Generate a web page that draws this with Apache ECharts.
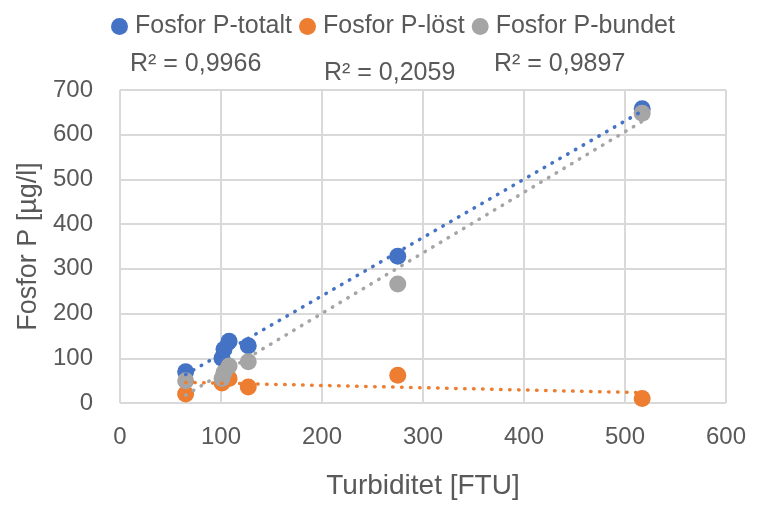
<!DOCTYPE html>
<html>
<head>
<meta charset="utf-8">
<script src="https://cdn.jsdelivr.net/npm/echarts@6/dist/echarts.min.js"></script>
<style>
  html, body { margin: 0; padding: 0; background: #fff; }
  #chart { width: 760px; height: 505px; }
</style>
</head>
<body>
<div id="chart"></div>
<script>
// Turbidity (FTU) against phosphorus fractions (µg/l)
const turbidity = [65, 101, 103, 108, 127, 275, 517];
const totalP    = [70, 100, 120, 138, 128, 328, 658];
const dissolvedP = [20, 45, 52, 55, 36, 62, 10];
const boundP    = [50, 55, 68, 83, 92, 266, 648];

const seriesNames = ['Fosfor P-totalt', 'Fosfor P-löst', 'Fosfor P-bundet'];
const seriesColors = ['#4472C4', '#ED7D31', '#A5A5A5'];
const r2Labels = ['R² = 0,9966', 'R² = 0,2059', 'R² = 0,9897'];

const xTicks = [0, 100, 200, 300, 400, 500, 600];
const yTicks = [0, 100, 200, 300, 400, 500, 600, 700];

const FONT = '"Liberation Sans", Arial, sans-serif';
const TEXT = '#595959';

// least-squares line across the observed turbidity range
function linearFit(xs, ys) {
  const n = xs.length;
  const mx = xs.reduce((a, b) => a + b, 0) / n;
  const my = ys.reduce((a, b) => a + b, 0) / n;
  let sxy = 0, sxx = 0;
  for (let i = 0; i < n; i++) {
    sxy += (xs[i] - mx) * (ys[i] - my);
    sxx += (xs[i] - mx) * (xs[i] - mx);
  }
  const slope = sxy / sxx;
  const icpt = my - slope * mx;
  const x0 = Math.min(...xs), x1 = Math.max(...xs);
  return [[x0, icpt + slope * x0], [x1, icpt + slope * x1]];
}

const values = [totalP, dissolvedP, boundP];
const series = [];
values.forEach((ys, i) => {
  series.push({
    name: seriesNames[i],
    type: 'scatter',
    symbol: 'circle',
    symbolSize: 17,
    itemStyle: { color: seriesColors[i], opacity: 1 },
    data: turbidity.map((x, k) => [x, ys[k]]),
    z: 3 + i
  });
});
values.forEach((ys, i) => {
  series.push({
    name: seriesNames[i] + ' trend',
    type: 'line',
    symbol: 'none',
    silent: true,
    lineStyle: { color: seriesColors[i], width: 3.5, type: [0.5, 8.5], cap: 'round' },
    data: linearFit(turbidity, ys),
    z: 10
  });
});

const chart = echarts.init(document.getElementById('chart'), null, { renderer: 'canvas' });
chart.setOption({
  animation: false,
  backgroundColor: '#fff',
  textStyle: { fontFamily: FONT },
  legend: {
    data: seriesNames.map((n, i) => ({ name: n, icon: 'circle', itemStyle: { color: seriesColors[i] } })),
    top: 9,
    left: 106,
    itemWidth: 17,
    itemHeight: 17,
    itemGap: 7,
    textStyle: { fontFamily: FONT, fontSize: 25, color: TEXT, padding: [0, 0, 0, 2] }
  },
  grid: { left: 120, right: 34, top: 90, bottom: 95, containLabel: false },
  xAxis: {
    type: 'value',
    min: xTicks[0], max: xTicks[xTicks.length - 1], interval: 100,
    name: 'Turbiditet [FTU]',
    nameLocation: 'middle',
    nameGap: 69,
    nameTextStyle: { fontFamily: FONT, fontSize: 28, color: TEXT },
    axisLine: { show: false },
    axisTick: { show: false },
    axisLabel: { fontFamily: FONT, fontSize: 24, color: TEXT, margin: 22 },
    splitLine: { show: true, lineStyle: { color: '#D9D9D9', width: 2 } }
  },
  yAxis: {
    type: 'value',
    min: yTicks[0], max: yTicks[yTicks.length - 1], interval: 100,
    name: 'Fosfor P [µg/l]',
    nameLocation: 'middle',
    nameGap: 78,
    nameTextStyle: { fontFamily: FONT, fontSize: 27, color: TEXT },
    axisLine: { show: false },
    axisTick: { show: false },
    axisLabel: { fontFamily: FONT, fontSize: 24, color: TEXT, margin: 27 },
    splitLine: { show: true, lineStyle: { color: '#D9D9D9', width: 2 } }
  },
  graphic: [
    { type: 'text', left: 130, top: 52, style: { text: r2Labels[0], fontFamily: FONT, fontSize: 25, fill: TEXT } },
    { type: 'text', left: 324, top: 61, style: { text: r2Labels[1], fontFamily: FONT, fontSize: 25, fill: TEXT } },
    { type: 'text', left: 494, top: 52, style: { text: r2Labels[2], fontFamily: FONT, fontSize: 25, fill: TEXT } }
  ],
  series: series
});
</script>
</body>
</html>
